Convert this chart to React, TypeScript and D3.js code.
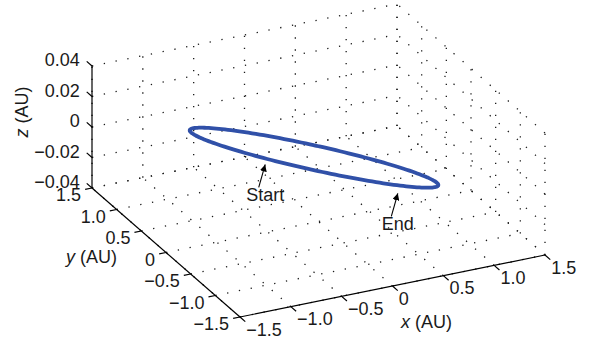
import React, { useMemo } from "react";
import * as d3 from "d3";

// Axis ticks (AU)
const xTicks = [-1.5, -1.0, -0.5, 0, 0.5, 1.0, 1.5];
const yTicks = [-1.5, -1.0, -0.5, 0, 0.5, 1.0, 1.5];
const zTicks = [-0.04, -0.02, 0, 0.02, 0.04];
const xTickLabels = ["\u22121.5", "\u22121.0", "\u22120.5", "0", "0.5", "1.0", "1.5"];
const yTickLabels = ["\u22121.5", "\u22121.0", "\u22120.5", "0", "0.5", "1.0", "1.5"];
const zTickLabels = ["\u22120.04", "\u22120.02", "0", "0.02", "0.04"];

// Orbit geometry: [radius AU, inclination deg, ascending node deg]
const orbitElements = [1.1, 1.65, 120];
// Orbit centre offset [x, y, z] in AU
const orbitCenter = [-0.01, 0.07, 0];
// Annotated orbit positions (orbit angle, deg)
const annotations = [
  { label: "Start", angle: 221, dy: 6 },
  { label: "End", angle: 286.5, dy: 8 },
];

const W = 593;
const H = 338;
const FONT = "'Liberation Sans', Arial, Helvetica, sans-serif";
const FS = 18;

export default function App() {
  // Orthographic view: each data axis is mapped to a screen offset
  const xPx = d3.scaleLinear().domain([-1.5, 1.5]).range([240, 545]);
  const xPy = d3.scaleLinear().domain([-1.5, 1.5]).range([317, 255]);
  const yPx = d3.scaleLinear().domain([-1.5, 1.5]).range([0, -148]);
  const yPy = d3.scaleLinear().domain([-1.5, 1.5]).range([0, -129]);
  const zPy = d3.scaleLinear().domain([-0.04, 0.04]).range([0, -122]);

  const P = (x: number, y: number, z: number): [number, number] => [
    xPx(x) + yPx(y),
    xPy(x) + yPy(y) + zPy(z),
  ];

  const line = d3.line<[number, number]>().x((d) => d[0]).y((d) => d[1]);

  const [xMin, xMax] = [-1.5, 1.5];
  const [yMin, yMax] = [-1.5, 1.5];
  const [zMin, zMax] = [-0.04, 0.04];

  const seg = (a: [number, number, number], b: [number, number, number]) =>
    line([P(...a), P(...b)]) as string;

  // Dotted grid on the three back planes
  const grid: string[] = [];
  xTicks.forEach((x) => {
    grid.push(seg([x, yMin, zMin], [x, yMax, zMin]));
    grid.push(seg([x, yMax, zMin], [x, yMax, zMax]));
  });
  yTicks.forEach((y) => {
    grid.push(seg([xMin, y, zMin], [xMax, y, zMin]));
    grid.push(seg([xMax, y, zMin], [xMax, y, zMax]));
  });
  zTicks.forEach((z) => {
    grid.push(seg([xMin, yMax, z], [xMax, yMax, z]));
    grid.push(seg([xMax, yMin, z], [xMax, yMax, z]));
  });

  const [R, incDeg, nodeDeg] = orbitElements;
  const orbitPoint = (deg: number): [number, number, number] => {
    const t = (deg * Math.PI) / 180;
    const inc = (incDeg * Math.PI) / 180;
    const node = (nodeDeg * Math.PI) / 180;
    return [
      orbitCenter[0] + R * Math.cos(t),
      orbitCenter[1] + R * Math.sin(t),
      orbitCenter[2] + R * Math.tan(inc) * Math.sin(t - node),
    ];
  };

  const orbitPath = useMemo(() => {
    const pts = d3.range(0, 361, 2).map((a) => P(...orbitPoint(a)));
    return d3.line<[number, number]>().curve(d3.curveCardinalClosed)(pts.slice(0, -1)) as string;
  }, []);

  const tickLen = 7;
  // Unit screen directions of the data axes
  const unit = (v: [number, number]) => {
    const n = Math.hypot(v[0], v[1]);
    return [v[0] / n, v[1] / n];
  };
  const o = P(0, 0, 0);
  const ex = unit([P(1, 0, 0)[0] - o[0], P(1, 0, 0)[1] - o[1]]);
  const ey = unit([P(0, 1, 0)[0] - o[0], P(0, 1, 0)[1] - o[1]]);

  return (
    <div style={{ position: "absolute", left: 0, top: 0 }}>
      <svg width={W} height={H} style={{ display: "block", background: "#fff" }} fontFamily={FONT}>
        <g stroke="#1a1a1a" strokeWidth={1.3} strokeDasharray="1.3 10.7" fill="none">
          {grid.map((d, i) => (
            <path key={i} d={d} />
          ))}
        </g>

        {/* axis lines */}
        <g stroke="#000" strokeWidth={1.2} fill="none">
          <path d={seg([xMin, yMin, zMin], [xMax, yMin, zMin])} />
          <path d={seg([xMin, yMin, zMin], [xMin, yMax, zMin])} />
          <path d={seg([xMin, yMax, zMin], [xMin, yMax, zMax])} />
        </g>

        {/* x ticks */}
        {xTicks.map((x, i) => {
          const [bx, by] = P(x, yMin, zMin);
          const tx = bx - ey[0] * tickLen;
          const ty = by - ey[1] * tickLen;
          return (
            <g key={"x" + i}>
              <line x1={bx} y1={by} x2={tx} y2={ty} stroke="#000" strokeWidth={1.2} />
              <text x={tx + 1} y={ty + 14} fontSize={FS} fill="#1a1a1a">
                {xTickLabels[i]}
              </text>
            </g>
          );
        })}

        {/* y ticks */}
        {yTicks.map((y, i) => {
          const [bx, by] = P(xMin, y, zMin);
          const tx = bx - ex[0] * tickLen;
          const ty = by - ex[1] * tickLen;
          return (
            <g key={"y" + i}>
              <line x1={bx} y1={by} x2={tx} y2={ty} stroke="#000" strokeWidth={1.2} />
              <text x={tx - 4} y={ty + 12} fontSize={FS} textAnchor="end" fill="#1a1a1a">
                {yTickLabels[i]}
              </text>
            </g>
          );
        })}

        {/* z ticks */}
        {zTicks.map((z, i) => {
          const [bx, by] = P(xMin, yMax, z);
          const tx = bx + ey[0] * tickLen;
          const ty = by + ey[1] * tickLen;
          return (
            <g key={"z" + i}>
              <line x1={bx} y1={by} x2={tx} y2={ty} stroke="#000" strokeWidth={1.2} />
              <text x={tx - 7} y={ty + 5} fontSize={FS} textAnchor="end" fill="#1a1a1a">
                {zTickLabels[i]}
              </text>
            </g>
          );
        })}

        {/* axis titles */}
        <text x={401} y={328} fontSize={FS} fill="#1a1a1a">
          <tspan fontStyle="italic">x</tspan> (AU)
        </text>
        <text x={66} y={263} fontSize={FS} fill="#1a1a1a">
          <tspan fontStyle="italic">y</tspan> (AU)
        </text>
        <text transform="translate(28,112) rotate(-90)" textAnchor="middle" fontSize={FS} fill="#1a1a1a">
          <tspan fontStyle="italic">z</tspan> (AU)
        </text>

        {/* orbit */}
        <path d={orbitPath} fill="none" stroke="#3050a8" strokeWidth={3.8} />

        {/* annotations */}
        <defs>
          <marker id="arrowHead" viewBox="0 0 10 10" refX="10" refY="5" markerWidth="7" markerHeight="7" orient="auto" markerUnits="userSpaceOnUse">
            <path d="M0,0 L10,5 L0,10 z" fill="#000" />
          </marker>
        </defs>
        {annotations.map((a) => {
          const [px, py] = P(...orbitPoint(a.angle));
          const tipX = px;
          const tipY = py + a.dy;
          return (
            <g key={a.label}>
              <line x1={tipX - 6.5} y1={tipY + 23} x2={tipX} y2={tipY} stroke="#000" strokeWidth={1.1} markerEnd="url(#arrowHead)" />
              <text x={tipX} y={tipY + 37} fontSize={FS} textAnchor="middle" fill="#1a1a1a">
                {a.label}
              </text>
            </g>
          );
        })}
      </svg>
    </div>
  );
}
